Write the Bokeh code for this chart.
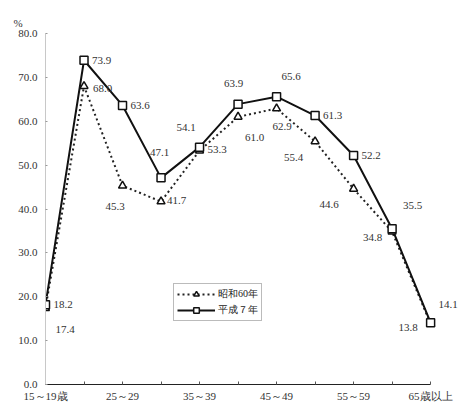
from bokeh.plotting import figure
from bokeh.models import (ColumnDataSource, LabelSet, Legend, LegendItem,
                          FixedTicker, Range1d, Title)
from bokeh.embed import file_html
from bokeh.resources import INLINE

# Labour force participation rate (%) by age group
age_groups = ["15～19歳", "20～24", "25～29", "30～34", "35～39", "40～44",
              "45～49", "50～54", "55～59", "60～64", "65歳以上"]
showa60 = [17.4, 68.0, 45.3, 41.7, 53.3, 61.0, 62.9, 55.4, 44.6, 34.8, 13.8]
heisei7 = [18.2, 73.9, 63.6, 47.1, 54.1, 63.9, 65.6, 61.3, 52.2, 35.5, 14.1]
series_names = ["昭和60年", "平成７年"]
y_ticks = [0, 10, 20, 30, 40, 50, 60, 70, 80]

# pixel offsets of each value label relative to its point (dx right, dy up)
heisei_dx = [8, 8, 8, -11, -23, -14, 5, 8, 8, 11, 8]
heisei_dy = [0, 0, 0, 25, 20, 21, 20, 0, 0, 23, 18]
showa_dx = [10, 9, -17, 6, 8, 7, -4, -31, -34, -29, -32]
showa_dy = [-21, -2, -21, 1, 1, -21, -18, -16, -16, -6, -4]

FONT = "Liberation Serif"
xs = list(range(len(age_groups)))
last = len(age_groups) - 1

# the frame runs past the last category so right-hand labels are not clipped;
# the axis itself stops at the last category
p = figure(width=459, height=405, output_backend="svg", toolbar_location=None,
           x_range=Range1d(0, last + 0.75), y_range=Range1d(0, 80),
           min_border_left=45, min_border_right=0,
           min_border_top=33, min_border_bottom=21)
p.outline_line_color = None
p.xgrid.visible = False
p.ygrid.visible = False
p.background_fill_color = "white"

p.title = Title(text="%", align="left", offset=-32, standoff=10,
                text_font=FONT, text_font_size="11px", text_color="#333",
                text_font_style="normal")

src_s = ColumnDataSource(dict(x=xs, y=showa60, text=[f"{v:.1f}" for v in showa60],
                              dx=showa_dx, dy=showa_dy))
src_h = ColumnDataSource(dict(x=xs, y=heisei7, text=[f"{v:.1f}" for v in heisei7],
                              dx=heisei_dx, dy=heisei_dy))

line_s = p.line("x", "y", source=src_s, line_color="#222", line_width=2,
                line_dash="2 3")
line_h = p.line("x", "y", source=src_h, line_color="#111", line_width=2)
mark_s = p.scatter("x", "y", source=src_s, marker="triangle", size=8,
                   fill_color="white", line_color="#111", line_width=1.5)
mark_h = p.scatter("x", "y", source=src_h, marker="square", size=8,
                   fill_color="white", line_color="#111", line_width=1.5)

for src in (src_h, src_s):
    p.add_layout(LabelSet(x="x", y="y", text="text", source=src,
                          x_offset="dx", y_offset="dy",
                          text_align="left", text_baseline="middle",
                          text_font=FONT, text_font_size="11px",
                          text_color="#333"))

# axes
p.xaxis.ticker = FixedTicker(ticks=xs)
p.xaxis.bounds = (0, last)
p.xaxis.major_label_overrides = {i: (age_groups[i] if i % 2 == 0 else "") for i in xs}
p.xaxis.axis_line_color = "#222"
p.xaxis.major_tick_in = 3
p.xaxis.major_tick_out = 0
p.xaxis.minor_tick_line_color = None
p.xaxis.major_tick_line_color = "#555"
p.xaxis.major_label_standoff = 5

p.yaxis.ticker = FixedTicker(ticks=y_ticks)
p.yaxis.bounds = (0, 80)
p.yaxis.major_label_overrides = {t: f"{t:.1f}" for t in y_ticks}
p.yaxis.axis_line_color = "#c8c8c8"
p.yaxis.major_tick_in = 2
p.yaxis.major_tick_out = 0
p.yaxis.major_tick_line_color = "#999"
p.yaxis.minor_tick_line_color = None
p.yaxis.major_label_standoff = 8

for ax in (p.xaxis[0], p.yaxis[0]):
    ax.major_label_text_font = FONT
    ax.major_label_text_font_size = "11px"
    ax.major_label_text_color = "#333"

legend = Legend(items=[LegendItem(label=series_names[0], renderers=[line_s, mark_s]),
                       LegendItem(label=series_names[1], renderers=[line_h, mark_h])],
                location=(128, 63), border_line_color="#777", border_line_width=1,
                background_fill_color="white", background_fill_alpha=1,
                label_text_font=FONT, label_text_font_size="10px",
                label_text_color="#222", glyph_width=38, glyph_height=14,
                label_height=14, spacing=2, padding=3, margin=0,
                label_standoff=3)
p.add_layout(legend)

open("out.html", "w").write(file_html(p, INLINE))
